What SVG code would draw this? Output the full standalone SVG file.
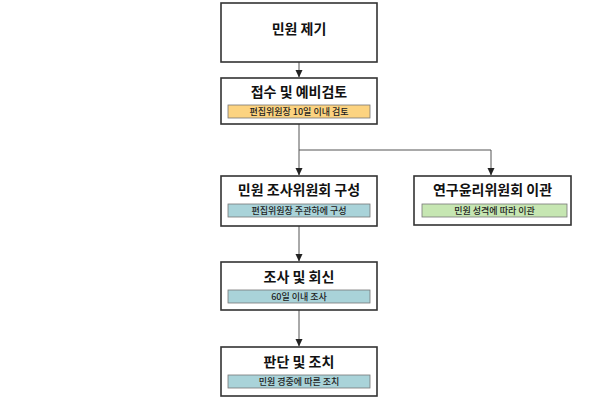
<svg xmlns="http://www.w3.org/2000/svg" width="598" height="400" viewBox="0 0 598 400">
<defs>
<marker id="arr" markerWidth="8" markerHeight="8" refX="7" refY="4" orient="auto" markerUnits="userSpaceOnUse">
<path d="M0,0.5 L7.5,4 L0,7.5 Z" fill="#222"/>
</marker>
<style>
.box{fill:#fff;stroke:#333;stroke-width:1.6}
.ttl{font-family:"Noto Sans CJK KR","Noto Sans",sans-serif;font-weight:bold;font-size:14px;fill:#111;text-anchor:middle;dominant-baseline:central}
.sub{font-family:"Noto Sans CJK KR","Noto Sans",sans-serif;font-weight:500;font-size:9px;fill:#222;text-anchor:middle;dominant-baseline:central}
.bar{stroke:#777;stroke-width:0.8}
.or{fill:#fcd380}
.bl{fill:#a9d3d9}
.gr{fill:#c6e6b2}
.ln{fill:none;stroke:#555;stroke-width:1}
</style>
</defs>
<rect width="598" height="400" fill="#fff"/>
<g id="connectors">
<line class="ln" x1="299" y1="62" x2="299" y2="77" marker-end="url(#arr)"/>
<polyline class="ln" points="299,124 299,150 491,150 491,175" marker-end="url(#arr)"/>
<line class="ln" x1="299" y1="150" x2="299" y2="175" marker-end="url(#arr)"/>
<line class="ln" x1="299" y1="226" x2="299" y2="261" marker-end="url(#arr)"/>
<line class="ln" x1="299" y1="310" x2="299" y2="346" marker-end="url(#arr)"/>
</g>
<g id="n1">
<rect class="box" x="221" y="3" width="156" height="59"/>
<text class="ttl" x="299" y="28">민원 제기</text>
</g>
<g id="n2">
<rect class="box" x="221" y="78" width="156" height="46"/>
<text class="ttl" x="299" y="91">접수 및 예비검토</text>
<rect class="bar or" x="228" y="105" width="142" height="13"/>
<text class="sub" x="299" y="111.5">편집위원장 10일 이내 검토</text>
</g>
<g id="n3">
<rect class="box" x="221" y="176" width="156" height="50"/>
<text class="ttl" x="299" y="189">민원 조사위원회 구성</text>
<rect class="bar bl" x="228" y="204" width="142" height="13"/>
<text class="sub" x="299" y="210.5">편집위원장 주관하에 구성</text>
</g>
<g id="n4">
<rect class="box" x="414" y="176" width="157" height="49"/>
<text class="ttl" x="492.5" y="189">연구윤리위원회 이관</text>
<rect class="bar gr" x="422" y="204" width="145" height="13"/>
<text class="sub" x="494.5" y="210.5">민원 성격에 따라 이관</text>
</g>
<g id="n5">
<rect class="box" x="221" y="262" width="156" height="48"/>
<text class="ttl" x="299" y="276">조사 및 회신</text>
<rect class="bar bl" x="228" y="290" width="142" height="13"/>
<text class="sub" x="299" y="296.5">60일 이내 조사</text>
</g>
<g id="n6">
<rect class="box" x="221" y="347" width="156" height="49"/>
<text class="ttl" x="299" y="361">판단 및 조치</text>
<rect class="bar bl" x="228" y="375" width="142" height="13"/>
<text class="sub" x="299" y="381.5">민원 경중에 따른 조치</text>
</g>
</svg>
